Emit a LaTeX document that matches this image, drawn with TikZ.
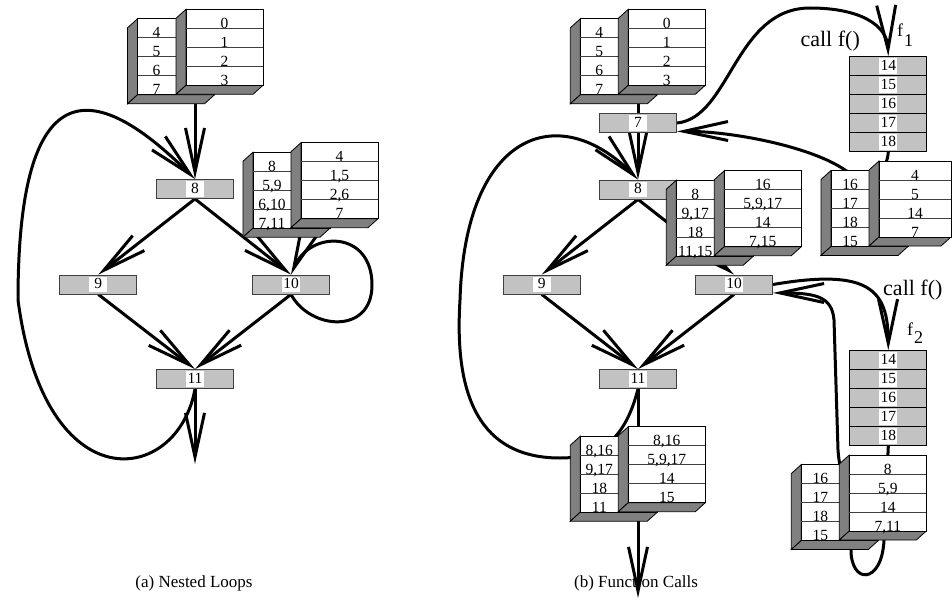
\documentclass[tikz,border=0pt]{standalone}
\usepackage{fontspec}
\setmainfont{Liberation Serif}
\usetikzlibrary{arrows.meta}

\pgfdeclarelayer{edges}
\pgfsetlayers{edges,main}

\definecolor{sidegray}{gray}{0.5}
\definecolor{nodegray}{gray}{0.76}
\definecolor{framegray}{gray}{0.25}

\tikzset{
  x=1pt, y=-1pt,
  flow/.style={line width=3pt, -{Straight Barb[length=44pt,width=19pt]}},
  link/.style={line width=3pt},
  cfgnode/.style={draw=framegray, line width=0.8pt, fill=nodegray,
    minimum width=77pt, minimum height=19pt, inner sep=0pt,
    font=\fontsize{15.5}{15.5}\selectfont},
  stackrow/.style={draw=black, line width=0.8pt, fill=nodegray,
    minimum width=77pt, minimum height=19pt, inner sep=0pt,
    font=\fontsize{15.5}{15.5}\selectfont},
  tbltext/.style={anchor=base, inner sep=0pt, font=\fontsize{15.5}{15.5}\selectfont},
  face/.style={fill=white, draw=black, line width=0.8pt},
  side/.style={fill=sidegray, draw=black, line width=0.8pt},
  rowline/.style={draw=black!75, line width=0.8pt},
  caption/.style={inner sep=0pt, font=\fontsize{17}{17}\selectfont},
  flabel/.style={inner sep=0pt, font=\fontsize{18}{18}\selectfont},
  calllabel/.style={inner sep=0pt, font=\fontsize{22}{22}\selectfont},
}

% white label box used inside the grey statement nodes
\newcommand{\numbox}[1]{{\setlength{\fboxsep}{1.5pt}%
  \colorbox{white}{\rule[-1.8pt]{0pt}{12.5pt}\makebox[15pt]{#1}}}}

% a table drawn as a slab: white face at (x,y), grey left side and bottom
% #1 name, #2 x, #3 y, #4 width, #5 text centre offset, #6-#9 row entries
\newcommand{\cubetable}[9]{%
  \filldraw[side] (#2,#3) -- ++(-10,9) -- ++(0,76) -- ++(10,-9) -- cycle;
  \filldraw[side] (#2,#3+76) -- ++(-10,9) -- ++(#4,0) -- ++(10,-9) -- cycle;
  \filldraw[face] (#2,#3) rectangle ++(#4,76);
  \foreach \k in {1,2,3} \draw[rowline] (#2,#3+19*\k) -- ++(#4,0);
  \node[tbltext] (#1-1) at (#2+#5,#3+19) {#6};
  \node[tbltext] (#1-2) at (#2+#5,#3+38) {#7};
  \node[tbltext] (#1-3) at (#2+#5,#3+57) {#8};
  \node[tbltext] (#1-4) at (#2+#5,#3+76) {#9};
}

% stack of statements 14..18 of the function body
\newcommand{\fstack}[3]{%
  \foreach \v [count=\i from 0] in {14,...,18}
    \node[stackrow] (#1-\v) at (#2,#3+9.5+19*\i) {\numbox{\v}};
}

\begin{document}
\begin{tikzpicture}
\useasboundingbox (0,0) rectangle (952,602);

% ---------------- (a) nested loops ----------------
\node[cfgnode] (a8)  at (195,189)   {\numbox{8}};
\node[cfgnode] (a9)  at (98.3,284.5) {\numbox{9}};
\node[cfgnode] (a10) at (291,284.5) {\numbox{10}};
\node[cfgnode] (a11) at (195,379)   {\numbox{11}};
\coordinate (aTop)  at (195,100);
\coordinate (aExit) at (195,464);

% ---------------- (b) function calls ----------------
\node[cfgnode] (b7)  at (638,123)   {\numbox{7}};
\node[cfgnode] (b8)  at (638,189.5) {\numbox{8}};
\node[cfgnode] (b9)  at (541.7,284.5) {\numbox{9}};
\node[cfgnode] (b10) at (734,284.5) {\numbox{10}};
\node[cfgnode] (b11) at (638,379)   {\numbox{11}};
\coordinate (bTop)  at (638,100);
\coordinate (bExit) at (638,598);

\fstack{f1}{888.3}{56.7}
\fstack{f2}{888.3}{350.7}

% ---------------- connectors ----------------
\begin{pgfonlayer}{edges}
  \draw[flow] (aTop) -- (a8.north);
  \draw[flow] (a8.south) -- (a9.north);
  \draw[flow] (a8.south) -- (a10.north);
  \draw[flow] (a9.south) -- (a11.north);
  \draw[flow] (a10.south) -- (a11.north);
  \draw[flow] (a11.south) -- (aExit);
  \draw[flow] (a11.south) .. controls (178,485) and (45,505) .. (18,300)
                          .. controls (18,40) and (115,100) .. (a8.north);
  \draw[flow] (a10.south) .. controls (310,330) and (372,335) .. (372,285)
                          .. controls (372,230) and (310,230) .. (a10.north);

  \draw[link] (bTop) -- (b7.north);
  \draw[flow] (b7.south) -- (b8.north);
  \draw[flow] (b8.south) -- (b9.north);
  \draw[flow] (b8.south) -- (b10.north);
  \draw[flow] (b9.south) -- (b11.north);
  \draw[flow] (b10.south) -- (b11.north);
  \draw[flow] (b11.south) -- (bExit);
  \draw[flow] (b11.south) .. controls (625,440) and (600,458) .. (560,458)
                          .. controls (470,458) and (455,380) .. (460,300)
                          .. controls (465,130) and (560,100) .. (b8.north);

  % call and return of f, first instance
  \draw[flow] (b7.east) .. controls (730,118) and (735,8) .. (810,8)
                        .. controls (860,8) and (887,25) .. (f1-14.north);
  \draw[flow] (f1-18.south) .. controls (885,185) and (860,180) .. (845,170)
                            .. controls (810,146) and (730,131) .. ([yshift=1.5pt]b7.south east);
  % call and return of f, second instance
  \draw[flow] (b10.east) .. controls (870,268) and (888,290) .. (f2-14.north);
  \draw[flow] (f2-18.south) -- (884,540) .. controls (882,585) and (850,585) .. (851,548)
                            .. controls (852,500) and (840,480) .. (838,450)
                            -- (834,320) .. controls (832,296) and (815,293)
                            .. ([yshift=1.5pt]b10.south east);
\end{pgfonlayer}

% ---------------- tables ----------------
\cubetable{a1s}{137.5}{18.8}{77}{19}{4}{5}{6}{7}
\cubetable{a1f}{186}{9.3}{77}{38.5}{0}{1}{2}{3}
\cubetable{a2s}{253}{152.2}{77}{19}{8}{5,9}{6,10}{7,11}
\cubetable{a2f}{301}{142.7}{77}{38.5}{4}{1,5}{2,6}{7}

\cubetable{b1s}{580.3}{18.8}{77}{19}{4}{5}{6}{7}
\cubetable{b1f}{628.3}{9.3}{77}{38.5}{0}{1}{2}{3}
\cubetable{b2s}{676.3}{180.2}{77}{19}{8}{9,17}{18}{11,15}
\cubetable{b2f}{724.3}{170.7}{77}{38.5}{16}{5,9,17}{14}{7,15}
\cubetable{b3s}{580.3}{436.2}{77}{19}{8,16}{9,17}{18}{11}
\cubetable{b3f}{628.3}{426.7}{77}{38.5}{8,16}{5,9,17}{14}{15}
\cubetable{b4s}{831}{170.5}{77}{19}{16}{17}{18}{15}
\cubetable{b4f}{879}{161}{72}{36}{4}{5}{14}{7}
\cubetable{b5s}{801.3}{464.5}{77}{19}{16}{17}{18}{15}
\cubetable{b5f}{849.3}{455}{77}{38.5}{8}{5,9}{14}{7,11}

% ---------------- labels ----------------
\node[calllabel, anchor=base east] (call1) at (860,47) {call f()};
\node[flabel, anchor=base west] (lf1) at (897,37) {f\kern1pt\raisebox{-10pt}{1}};
\node[calllabel, anchor=base west] (call2) at (883,295) {call f()};
\node[flabel, anchor=base west] (lf2) at (907,335) {f\kern1pt\raisebox{-8pt}{2}};

\node[caption] (capa) at (194,583) {(a) Nested Loops};
\node[caption] (capb) at (636,583) {(b) Function Calls};
\end{tikzpicture}
\end{document}
